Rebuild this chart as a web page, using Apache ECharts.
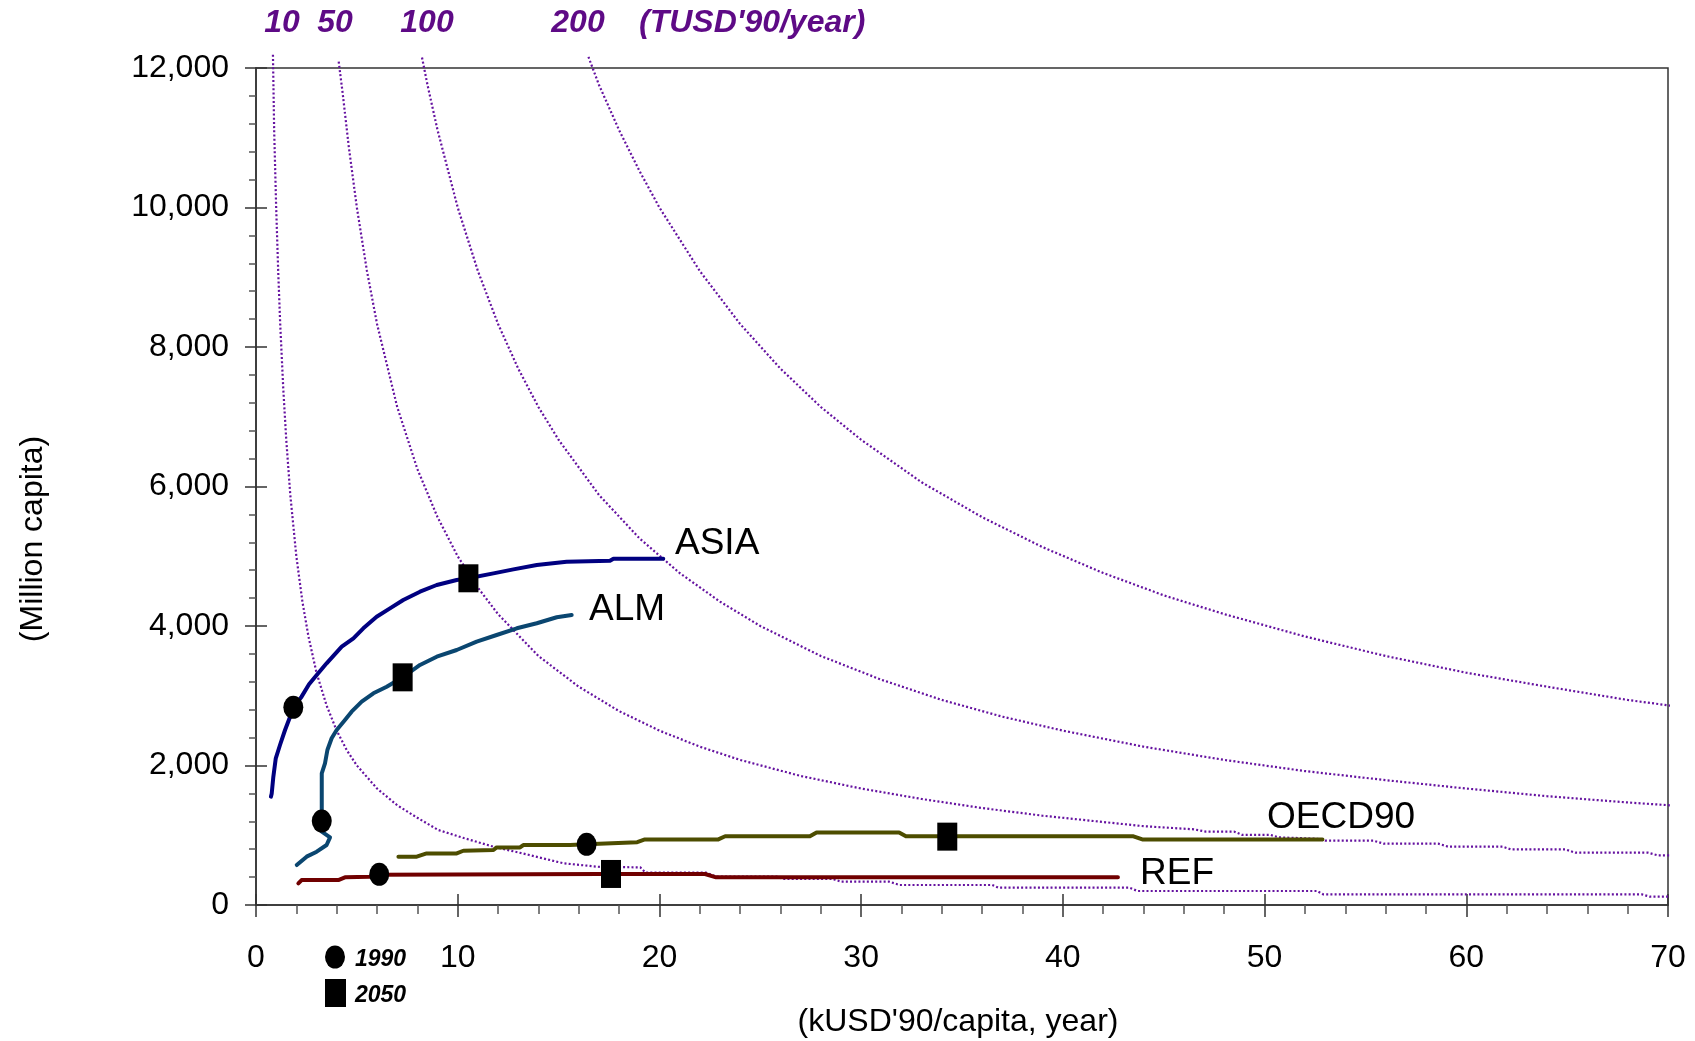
<!DOCTYPE html>
<html><head><meta charset="utf-8">
<script src="https://cdn.jsdelivr.net/npm/echarts@6/dist/echarts.min.js"></script>
<style>html,body{margin:0;padding:0;background:#fff}#c{width:1695px;height:1041px}</style>
</head><body><div id="c"></div>
<script>
// Regional trajectories [GDP per capita (kUSD'90/capita), population (million)]
const asia = [[0.74,1553],[0.78,1600],[0.86,1840],[0.98,2103],[1.19,2294],[1.44,2509],[1.69,2700],[1.85,2834],[2.26,2987],[2.63,3164],[3.01,3298],[3.50,3465],[4.25,3703],[4.83,3823],[5.32,3967],[5.98,4133],[6.64,4253],[7.30,4373],[8.13,4492],[8.96,4588],[9.95,4660],[10.53,4684],[11.77,4755],[12.76,4812],[13.92,4874],[15.40,4922],[17.55,4937],[17.72,4965],[20.19,4965]];
const alm = [[2.02,573],[2.51,693],[3.01,764],[3.50,860],[3.67,970],[3.26,1051],[3.26,1204],[3.26,1888],[3.42,2031],[3.54,2222],[3.75,2390],[4.00,2509],[4.41,2652],[4.74,2772],[5.24,2915],[5.82,3035],[6.48,3130],[7.27,3264],[8.13,3441],[8.96,3560],[9.95,3656],[10.94,3775],[11.93,3871],[12.93,3967],[13.92,4039],[14.91,4125],[15.65,4158]];
const oecd90 = [[7.06,693],[7.97,693],[8.46,740],[9.95,740],[10.28,778],[11.77,788],[11.93,826],[13.09,826],[13.25,860],[15.57,860],[16.39,870],[18.9,900],[19.28,940],[22.92,940],[23.26,985],[27.46,985],[27.79,1040],[31.88,1040],[32.22,985],[43.5,985],[43.94,940],[52.87,940]];
const ref = [[2.10,311],[2.26,358],[4.08,358],[4.41,397],[5.65,406],[6.11,435],[17.06,445],[22.26,445],[22.81,397],[42.73,397]];
const regionNames = ['ASIA','ALM','OECD90','REF'];
// 1990 and 2050 points
const points1990 = [[1.85,2834],[3.26,1204],[16.39,870],[6.11,440]];
const points2050 = [[10.53,4684],[7.27,3264],[34.27,980],[17.60,445]];
// Iso-GDP curves (TUSD'90/year)
const iso10 = [[0.84,12190],[0.9,11110],[1,10000],[1.1,9090],[1.2,8330],[1.35,7410],[1.5,6670],[1.7,5880],[2,5000],[2.3,4350],[2.6,3850],[3,3330],[3.5,2860],[4,2500],[4.5,2220],[5,2000],[6,1670],[7,1430],[8,1250],[9.04,1075],[10.3,960],[11.77,836],[13.5,720],[15.24,598],[17.06,545],[19.05,540],[19.3,466],[22.3,466],[22.8,406],[25.9,406],[26.1,373],[28.6,373],[29,334],[31.4,334],[31.9,287],[36.5,287],[36.8,248],[43.3,248],[43.7,201],[52.6,201],[52.9,153],[68.7,153],[69.1,119],[71.1,119]];
const iso50 = [[4.1,12090],[4.3,11630],[4.6,10870],[5,10000],[5.5,9090],[6,8330],[7,7140],[8,6250],[9,5560],[10,5000],[11,4550],[12,4170],[14,3570],[16,3130],[18,2780],[20,2500],[22,2270],[24,2080],[27,1850],[30,1670],[33,1520],[36,1390],[39,1280],[42,1190],[44,1130],[46.5,1085],[47.1,1051],[48.5,1051],[48.9,1004],[50.3,1004],[50.7,970],[52.6,950],[53,922],[55.4,922],[55.9,880],[58.6,880],[59.1,836],[61.8,836],[62.2,798],[64.9,798],[65.4,750],[69,750],[69.5,712],[71.1,712]];
const iso100 = [[8.23,12150],[8.5,11760],[9,11110],[10,10000],[11,9090],[12,8330],[13,7690],[14,7140],[15,6670],[17,5880],[19,5260],[21,4760],[23,4350],[25,4000],[28,3570],[31,3230],[34,2940],[37,2700],[40,2500],[44,2270],[48,2080],[52,1920],[56,1790],[60,1670],[64,1560],[68,1470],[71.1,1410]];
const iso200 = [[16.48,12160],[17,11760],[18,11110],[19,10530],[20,10000],[22,9090],[24,8330],[26,7690],[28,7140],[30,6670],[33,6060],[36,5560],[39,5130],[42,4760],[45,4440],[48,4170],[52,3850],[56,3570],[60,3330],[64,3130],[68,2940],[71.1,2820]];
const isoLabels = ['10','50','100','200',"(TUSD'90/year)"];
const legendLabels = ['1990','2050'];
const xTitle = "(kUSD'90/capita, year)";
const yTitle = "(Million capita)";

const FONT = "'Liberation Sans', Arial, sans-serif";
const chart = echarts.init(document.getElementById('c'), null, {renderer:'canvas'});

function regionLine(name, data, color) {
  return {name, type:'line', data, xAxisIndex:0, yAxisIndex:0, symbol:'none', showSymbol:false,
    lineStyle:{color, width:4, join:'round', cap:'round'}, z:3, silent:true, animation:false};
}
function isoLine(name, data) {
  return {name, type:'line', data, xAxisIndex:0, yAxisIndex:0, symbol:'none', showSymbol:false, clip:false,
    lineStyle:{color:'#6512a0', width:2.2, type:[2,2.2]}, z:2, silent:true, animation:false};
}
const isoColor = '#5e0a86';
const txt = (text, x, y, font, fill, align, rotation) => ({type:'text', x, y, z:10, silent:true, rotation: rotation||0,
  style:{text, font, fill: fill||'#000', textAlign: align||'left', textVerticalAlign:'middle'}});
const isoFont = 'italic bold 32px ' + FONT;
const nameFont = '37px ' + FONT;
const legFont = 'italic bold 23px ' + FONT;
const titleFont = '32px ' + FONT;

const axisColor = '#333';
const option = {
  animation:false,
  backgroundColor:'#fff',
  grid:{left:256, right:27, top:68, bottom:136, show:true, borderColor:axisColor, borderWidth:1.5, backgroundColor:'transparent'},
  xAxis:[
    {type:'value', min:0, max:70, interval:10, position:'bottom',
     axisLine:{onZero:false, lineStyle:{color:axisColor, width:1.5}},
     axisTick:{length:12, lineStyle:{color:axisColor, width:1.5}},
     minorTick:{show:true, splitNumber:5, length:9, lineStyle:{color:'#555', width:1.5}},
     axisLabel:{margin:37, fontSize:32, color:'#000', fontFamily:FONT},
     splitLine:{show:false}, minorSplitLine:{show:false}},
    {type:'value', min:0, max:70, interval:10, position:'bottom',
     axisLine:{show:false, onZero:false},
     axisTick:{inside:true, length:11, lineStyle:{color:axisColor, width:1.5}},
     axisLabel:{show:false}, splitLine:{show:false}}
  ],
  yAxis:[
    {type:'value', min:0, max:12000, interval:2000, position:'left',
     axisLine:{onZero:false, lineStyle:{color:axisColor, width:1.5}},
     axisTick:{length:11, lineStyle:{color:axisColor, width:1.5}},
     minorTick:{show:true, splitNumber:5, length:7, lineStyle:{color:'#555', width:1.5}},
     axisLabel:{margin:27, fontSize:32, color:'#000', fontFamily:FONT, padding:[0,0,12,0],
       formatter:v=>v.toLocaleString('en-US')},
     splitLine:{show:false}, minorSplitLine:{show:false}},
    {type:'value', min:0, max:12000, interval:2000, position:'left',
     axisLine:{show:false, onZero:false},
     axisTick:{inside:true, length:11, lineStyle:{color:axisColor, width:1.5}},
     axisLabel:{show:false}, splitLine:{show:false}}
  ],
  series:[
    isoLine('iso10', iso10), isoLine('iso50', iso50), isoLine('iso100', iso100), isoLine('iso200', iso200),
    regionLine(regionNames[0], asia, '#000080'),
    regionLine(regionNames[1], alm, '#0a4670'),
    regionLine(regionNames[2], oecd90, '#4d4d00'),
    regionLine(regionNames[3], ref, '#700000'),
    {name:'1990', type:'scatter', data:points1990, symbol:'circle', symbolSize:[20,23],
     itemStyle:{color:'#000', opacity:1}, z:6, silent:true, animation:false},
    {name:'2050', type:'scatter', data:points2050, symbol:'rect', symbolSize:[20,28],
     itemStyle:{color:'#000', opacity:1}, z:6, silent:true, animation:false}
  ],
  graphic:[
    txt(isoLabels[0], 282, 23, isoFont, isoColor, 'center'),
    txt(isoLabels[1], 335, 23, isoFont, isoColor, 'center'),
    txt(isoLabels[2], 427, 23, isoFont, isoColor, 'center'),
    txt(isoLabels[3], 578, 23, isoFont, isoColor, 'center'),
    txt(isoLabels[4], 639, 23, isoFont, isoColor, 'left'),
    txt(regionNames[0], 675, 544, nameFont),
    txt(regionNames[1], 589, 610, nameFont),
    txt(regionNames[2], 1267, 818, nameFont),
    txt(regionNames[3], 1140, 874, nameFont),
    txt(xTitle, 958, 1022, titleFont, '#000', 'center'),
    txt(yTitle, 33, 539, titleFont, '#000', 'center', Math.PI/2),
    {type:'circle', shape:{cx:0, cy:0, r:10}, x:335, y:957, scaleY:1.16, style:{fill:'#000'}, z:10, silent:true},
    {type:'rect', shape:{x:325, y:979, width:21, height:28}, style:{fill:'#000'}, z:10, silent:true},
    txt(legendLabels[0], 355, 960, legFont),
    txt(legendLabels[1], 355, 996, legFont)
  ]
};
chart.setOption(option);
</script></body></html>
